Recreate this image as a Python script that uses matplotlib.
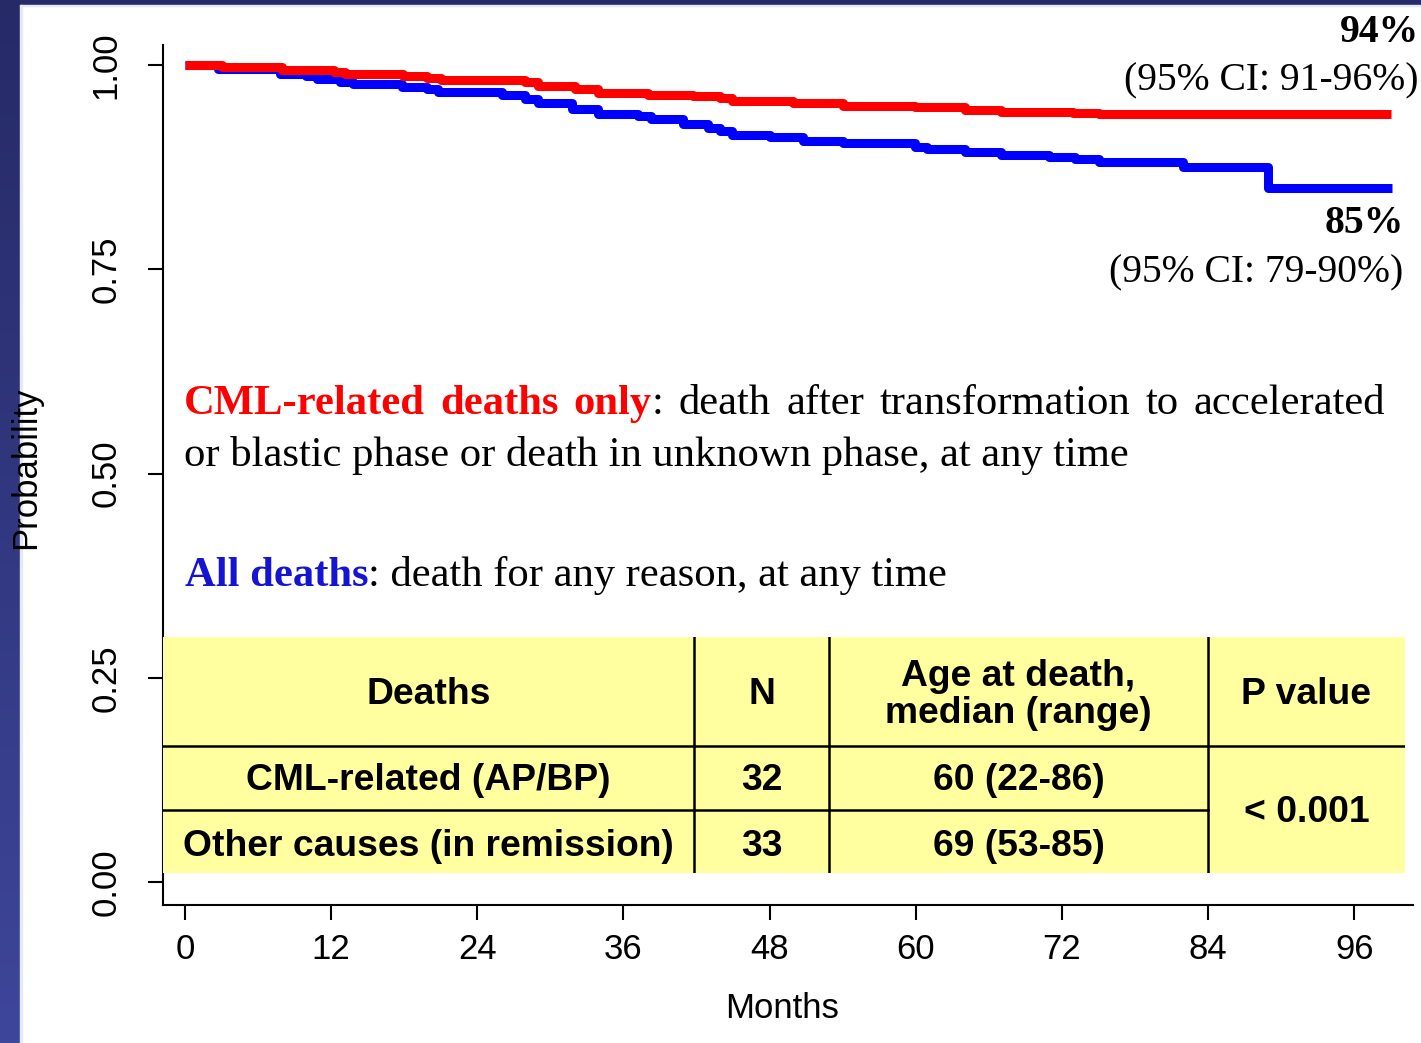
import matplotlib
matplotlib.use('Agg')
import matplotlib.pyplot as plt
from matplotlib.patches import Rectangle
import numpy as np

# Kaplan-Meier steps (months, probability after the step)
cml_months = [0, 3.0, 8.0, 11.0, 12.2, 13.1, 17.9, 19.9, 21.0, 27.9, 29.0, 32.0, 33.9,
              38.0, 41.7, 43.9, 44.9, 49.9, 54.0, 59.9, 64.0, 67.0, 72.9, 75.0, 99.0]
cml_surv = [1.000, 0.997, 0.9945, 0.9933, 0.9914, 0.9896, 0.9865, 0.9841, 0.9816, 0.9792,
            0.9743, 0.9706, 0.9657, 0.9633, 0.9621, 0.9602, 0.9559, 0.9535, 0.9504, 0.948,
            0.9455, 0.943, 0.9415, 0.94, 0.94]

all_months = [0, 2.7, 7.8, 9.9, 10.8, 12.7, 13.8, 17.8, 19.9, 20.8, 26.0, 27.9, 29.0, 31.8,
              33.9, 37.2, 38.3, 40.9, 42.9, 43.9, 44.9, 48.0, 50.7, 54.0, 59.9, 60.9, 64.0,
              67.0, 70.9, 73.1, 75.0, 81.9, 88.9, 99.1]
all_surv = [1.000, 0.9957, 0.9896, 0.9865, 0.9829, 0.9798, 0.9767, 0.9737, 0.9706, 0.9669,
            0.9633, 0.9584, 0.9535, 0.9461, 0.9400, 0.9370, 0.9339, 0.9278, 0.9235, 0.9198,
            0.9149, 0.9125, 0.9070, 0.9045, 0.9002, 0.8972, 0.8935, 0.8899, 0.8880, 0.8850,
            0.8819, 0.8746, 0.85, 0.85]

cml_ci = (91, 96)
all_ci = (79, 90)

x_ticks = [0, 12, 24, 36, 48, 60, 72, 84, 96]
y_ticks = [0.0, 0.25, 0.5, 0.75, 1.0]

table_header = ['Deaths', 'N', 'Age at death,\nmedian (range)', 'P value']
table_causes = ['CML-related (AP/BP)', 'Other causes (in remission)']
table_n = ['32', '33']
table_age = ['60 (22-86)', '69 (53-85)']
table_p = '< 0.001'

W, H = 1421, 1043
SERIF = 'Liberation Serif'
SANS = 'Liberation Sans'
RED = '#ff0000'
BLUE = '#0000ff'

plt.rcParams['font.family'] = SANS


def fx(px):
    return px / W


def fy(py):
    return 1 - py / H


fig = plt.figure(figsize=(W / 100, H / 100), dpi=100)
fig.patch.set_facecolor('white')

# slide frame: navy strip on the left and top
strip = fig.add_axes([0, 0, fx(20), 1])
grad = np.linspace(0, 1, 256).reshape(-1, 1)
top_c = np.array([0x26, 0x2a, 0x66]) / 255
bot_c = np.array([0x3e, 0x46, 0x9a]) / 255
img = top_c[None, None, :] * (1 - grad[:, :, None]) + bot_c[None, None, :] * grad[:, :, None]
strip.imshow(img, aspect='auto', extent=[0, 1, 0, 1])
strip.axis('off')
fig.patches.append(Rectangle((0, fy(5)), 1, 5 / H, transform=fig.transFigure,
                             color='#262a66', zorder=0))
fig.patches.append(Rectangle((fx(20), fy(6)), 1, 1 / H, transform=fig.transFigure,
                             color='#e4eaf4', zorder=0))
fig.patches.append(Rectangle((fx(20), 0), 1.5 / W, fy(5), transform=fig.transFigure,
                             color='#e4eaf4', zorder=0))

ax = fig.add_axes([fx(163), fy(905), fx(1413 - 163), (905 - 45) / H])
ax.step(all_months, all_surv, where='post', color=BLUE, lw=6.5,
        solid_joinstyle='round', solid_capstyle='butt', zorder=3)
ax.step(cml_months, cml_surv, where='post', color=RED, lw=6.5,
        solid_joinstyle='round', solid_capstyle='butt', zorder=4)

ax.set_xlim(-1.806, 100.82)
ax.set_ylim(-0.02815, 1.0245)
ax.spines['top'].set_visible(False)
ax.spines['right'].set_visible(False)
for s in ['left', 'bottom']:
    ax.spines[s].set_linewidth(1.5)
ax.set_xticks(x_ticks)
ax.set_yticks(y_ticks)
ax.set_yticklabels(['%.2f' % v for v in y_ticks], rotation=90, va='center')
ax.tick_params(axis='both', length=11, width=1.5, labelsize=25)
ax.tick_params(axis='y', pad=18)
ax.tick_params(axis='x', pad=9)

fig.text(fx(782), fy(1008), 'Months', fontsize=25, ha='center', va='center')
fig.text(fx(26), fy(468), 'Probability', fontsize=25, rotation=90,
         ha='center', va='center', zorder=5)

# end-of-curve estimates
fig.text(fx(1419), fy(42), '%d%%' % round(cml_surv[-1] * 100), family=SERIF,
         fontsize=28.5, fontweight='bold', ha='right', va='baseline')
fig.text(fx(1418), fy(90), '(95%% CI: %d-%d%%)' % cml_ci, family=SERIF,
         fontsize=28.5, ha='right', va='baseline')
fig.text(fx(1404), fy(233), '%d%%' % round(all_surv[-1] * 100), family=SERIF,
         fontsize=28.5, fontweight='bold', ha='right', va='baseline')
fig.text(fx(1403), fy(282), '(95%% CI: %d-%d%%)' % all_ci, family=SERIF,
         fontsize=28.5, ha='right', va='baseline')

# justified first line of the definition
TXT = 30.7
renderer = fig.canvas.get_renderer()
line1 = [[('CML-related', RED, 'bold')], [('deaths', RED, 'bold')],
         [('only', RED, 'bold'), (':', 'black', 'normal')],
         [('death', 'black', 'normal')], [('after', 'black', 'normal')],
         [('transformation', 'black', 'normal')], [('to', 'black', 'normal')],
         [('accelerated', 'black', 'normal')]]
x_left, x_right, base1 = 184, 1385, 414
words = []
for word in line1:
    parts = []
    for s, c, wgt in word:
        t = fig.text(0, fy(base1), s, family=SERIF, fontsize=TXT, color=c,
                     fontweight=wgt, va='baseline', ha='left')
        parts.append((t, t.get_window_extent(renderer).width))
    words.append(parts)
total = sum(w for parts in words for _, w in parts)
gap = (x_right - x_left - total) / (len(words) - 1)
x = x_left
for parts in words:
    for t, w in parts:
        t.set_x(fx(x))
        x += w
    x += gap

fig.text(fx(184), fy(466), 'or blastic phase or death in unknown phase, at any time',
         family=SERIF, fontsize=TXT, va='baseline')

t1 = fig.text(fx(185), fy(586), 'All deaths', family=SERIF, fontsize=TXT,
              color='#1414d2', fontweight='bold', va='baseline')
w1 = t1.get_window_extent(renderer).width
fig.text(fx(185 + w1), fy(586), ': death for any reason, at any time',
         family=SERIF, fontsize=TXT, va='baseline')

# summary table laid out in its own pixel grid
tab = fig.add_axes([fx(163), fy(873), fx(1405 - 163), (873 - 637) / H])
tab.set_xlim(0, 1242)
tab.set_ylim(236, 0)
tab.axis('off')
tab.add_patch(Rectangle((0, 0), 1242, 236, color='#ffffa0', zorder=0))
col_edges = [531, 666, 1045]
for xe in col_edges:
    tab.plot([xe, xe], [0, 236], color='black', lw=1.8, zorder=2)
tab.plot([0, 1242], [109, 109], color='black', lw=1.8, zorder=2)
tab.plot([0, 1045], [173, 173], color='black', lw=1.8, zorder=2)

col_mid = [265.5, 598.5, 855.5, 1143.5]
kw = dict(fontsize=26.8, fontweight='bold', ha='center', va='center')
for cx, h in zip(col_mid, table_header):
    tab.text(cx, 58, h, linespacing=1.1, **kw)
for row, cy in enumerate([144, 209]):
    tab.text(col_mid[0], cy, table_causes[row], **kw)
    tab.text(col_mid[1], cy, table_n[row], **kw)
    tab.text(col_mid[2], cy, table_age[row], **kw)
tab.text(col_mid[3], 176, table_p, **kw)

fig.savefig('out.png', dpi=100)
